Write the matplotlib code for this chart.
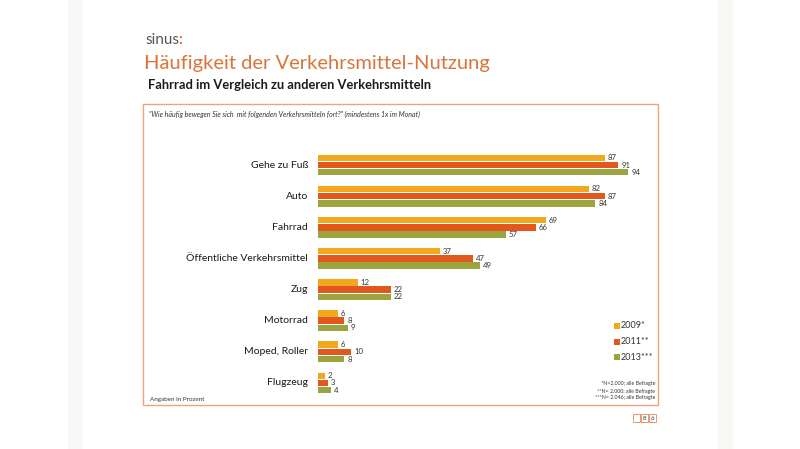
import matplotlib
matplotlib.use("Agg")
import matplotlib.pyplot as plt
from matplotlib.patches import Rectangle
import numpy as np

categories = ["Gehe zu Fuß", "Auto", "Fahrrad", "Öffentliche Verkehrsmittel",
              "Zug", "Motorrad", "Moped, Roller", "Flugzeug"]
v2009 = [87, 82, 69, 37, 12, 6, 6, 2]
v2011 = [91, 87, 66, 47, 22, 8, 10, 3]
v2013 = [94, 84, 57, 49, 22, 9, 8, 4]
series_labels = ["2009*", "2011**", "2013***"]
colors = ["#F2A81D", "#E2581C", "#9CA33F"]
footnotes = ["*N=2.000; alle Befragte", "**N= 2.000; alle Befragte", "***N= 2.046; alle Befragte"]

plt.rcParams['font.family'] = ['Lato', 'DejaVu Sans']

W, H = 800, 449
fig = plt.figure(figsize=(8, 4.49), dpi=100)
fig.patch.set_facecolor("white")

def fx(px): return px / W
def fy(py): return 1 - py / H

# slide edge shading (very subtle)
for x0, x1 in [(68, 83), (718, 733)]:
    fig.patches.append(Rectangle((fx(x0), 0), fx(x1 - x0), 1, transform=fig.transFigure,
                                 facecolor="#FAF8F6", edgecolor="none", zorder=0))

# frame box
fig.patches.append(Rectangle((fx(143), fy(405)), fx(658 - 143), (405 - 104) / H,
                             transform=fig.transFigure, facecolor="none",
                             edgecolor="#E9A67E", linewidth=1.0, zorder=1))

# header texts
fig.text(fx(145), fy(40), "sinus", fontsize=11, color="#555555", va="center")
fig.text(fx(178.5), fy(40), ":", fontsize=11, color="#E8641E", fontweight="bold", va="center")
fig.text(fx(144), fy(63), "Häufigkeit der Verkehrsmittel-Nutzung", fontsize=14.5,
         color="#D8763B", va="center")
fig.text(fx(148), fy(85), "Fahrrad im Vergleich zu anderen Verkehrsmitteln", fontsize=9.3,
         color="#1A1A1A", fontweight="bold", va="center")
fig.text(fx(149), fy(114), "\"Wie häufig bewegen Sie sich  mit folgenden Verkehrsmitteln fort?\" (mindestens 1x im Monat)",
         fontsize=5, style="italic", color="#333333", va="center")
fig.text(fx(150), fy(399), "Angaben in Prozent", fontsize=4.5, color="#333333", va="center")

# axes
ax = fig.add_axes([fx(318), fy(398.5), fx(648 - 318), (398.5 - 149.5) / H])
ax.set_xlim(0, 100)
ax.set_ylim(len(categories) - 0.5, -0.5)
ax.axis("off")

y = np.arange(len(categories))
off = 0.232
h = 0.205
for vals, c, d in zip([v2009, v2011, v2013], colors, [-off, 0, off]):
    ax.barh(y + d, vals, height=h, color=c, edgecolor="none")
    for yi, v in zip(y + d, vals):
        ax.text(v + 0.9, yi, str(v), fontsize=5.6, color="#333333", va="center", ha="left")

for yi, cat in zip(y, categories):
    ax.text(-3, yi, cat, fontsize=7.5, color="#1A1A1A", va="center", ha="right")

# legend
for i, (lab, c) in enumerate(zip(series_labels, colors)):
    py = 326 + i * 15.5
    fig.patches.append(Rectangle((fx(614), fy(py + 3)), fx(6), 6 / H, transform=fig.transFigure,
                                 facecolor=c, edgecolor="none"))
    fig.text(fx(621), fy(py), lab, fontsize=6.5, color="#333333", va="center")

for i, t in enumerate(footnotes):
    fig.text(fx(655), fy(384 + i * 7), t, fontsize=3.8, color="#333333", va="center", ha="right")

# page number boxes
for i, t in enumerate(["", "8", "6"]):
    x0 = 633 + i * 8
    fig.patches.append(Rectangle((fx(x0), fy(422)), fx(7), 8 / H, transform=fig.transFigure,
                                 facecolor="white", edgecolor="#E08A5A", linewidth=0.6))
    if t:
        fig.text(fx(x0 + 3.5), fy(418), t, fontsize=4.5, color="#333333", va="center", ha="center")

fig.savefig("out.png", dpi=100, facecolor="white")
